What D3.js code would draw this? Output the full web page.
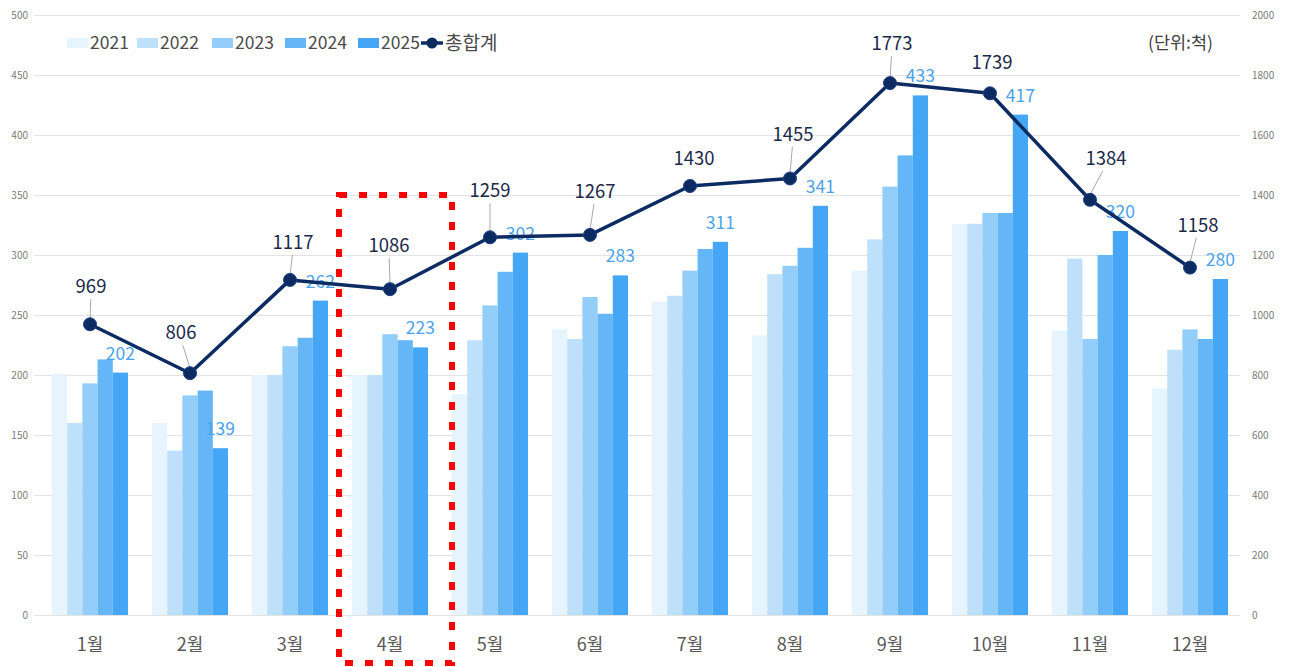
<!DOCTYPE html>
<html><head><meta charset="utf-8">
<script src="https://cdn.jsdelivr.net/npm/d3@7"></script>
<style>
html,body{margin:0;padding:0;background:#fff;}
svg{display:block;font-family:"Noto Sans CJK KR","Noto Sans",sans-serif;}
</style></head>
<body><svg id="chart" width="1292" height="667"></svg>
<script>
// ---- data ----
const months = ["1월","2월","3월","4월","5월","6월","7월","8월","9월","10월","11월","12월"];
const years = ["2021","2022","2023","2024","2025"];
const v2021 = [201,160,200,200,184,238,261,233,287,326,237,189];
const v2022 = [160,137,200,200,229,230,266,284,313,326,297,221];
const v2023 = [193,183,224,234,258,265,287,291,357,335,230,238];
const v2024 = [213,187,231,229,286,251,305,306,383,335,300,230];
const v2025 = [202,139,262,223,302,283,311,341,433,417,320,280];
const totals = [969,806,1117,1086,1259,1267,1430,1455,1773,1739,1384,1158];
const leftTicks = [0,50,100,150,200,250,300,350,400,450,500];
const rightTicks = [0,200,400,600,800,1000,1200,1400,1600,1800,2000];
const totalName = "총합계";
const unitText = "(단위:척)";
const highlightMonth = "4월";

// ---- layout / style ----
const colors = ["#e6f4fe","#bfe0fb","#93cdf9","#65b6f6","#44a6f5"];
const lineColor = "#0c2b63";
const totalLabelDx = [1,-9,3,-1,0,5,4,3,2,2,16,8];
const totalLabelDy = [31,34,31,37,40,37,21,38,33,24,35,36];

const series = [v2021,v2022,v2023,v2024,v2025];
const svg = d3.select("#chart");

const x0 = d3.scaleBand().domain(months).range([40,1240]).paddingInner(0.24).paddingOuter(0.12);
const x1 = d3.scaleBand().domain(years).range([0,x0.bandwidth()]);
const yL = d3.scaleLinear().domain([0,500]).range([615,15]);
const yR = d3.scaleLinear().domain([0,2000]).range([615,15]);

// gridlines
svg.append("g").selectAll("line").data(leftTicks).join("line")
  .attr("x1",34).attr("x2",1240)
  .attr("y1",d=>yL(d)+0.5).attr("y2",d=>yL(d)+0.5)
  .attr("stroke","#e3e3e3").attr("stroke-width",1);

// left axis
const axL = svg.append("g").attr("transform","translate(28,0)")
  .call(d3.axisLeft(yL).tickValues(leftTicks).tickSize(0).tickPadding(0).tickFormat(d3.format("d")));
axL.select(".domain").remove();
axL.selectAll("text").attr("font-size",10).attr("fill","#7a7a7a")
  .attr("font-family","'Noto Sans CJK KR',sans-serif");

// right axis
const axR = svg.append("g").attr("transform","translate(1252,0)")
  .call(d3.axisRight(yR).tickValues(rightTicks).tickSize(0).tickPadding(0).tickFormat(d3.format("d")));
axR.select(".domain").remove();
axR.selectAll("text").attr("font-size",10).attr("fill","#7a7a7a")
  .attr("font-family","'Noto Sans CJK KR',sans-serif");

// bars
const groups = svg.append("g").selectAll("g").data(months).join("g")
  .attr("transform",d=>`translate(${x0(d)},0)`);
groups.selectAll("rect").data((m,i)=>years.map((y,j)=>({y, j, v:series[j][i]}))).join("rect")
  .attr("x",d=>x1(d.y)).attr("width",x1.bandwidth())
  .attr("y",d=>yL(d.v)).attr("height",d=>yL(0)-yL(d.v))
  .attr("fill",d=>colors[d.j]);

// x axis labels
const axB = svg.append("g").attr("transform","translate(0,640)")
  .call(d3.axisBottom(x0).tickSize(0).tickPadding(0));
axB.select(".domain").remove();
axB.selectAll("text").attr("font-size",18).attr("fill","#595959")
  .attr("font-family","'Noto Sans CJK KR',sans-serif").attr("dy","0.6em");

// 2025 labels
svg.append("g").selectAll("text").data(v2025).join("text")
  .attr("x",(d,i)=>x0(months[i])+x1("2025")+x1.bandwidth()/2)
  .attr("y",d=>yL(d)-13)
  .attr("text-anchor","middle").attr("font-size",17.5).attr("fill","#4aa2ea")
  .text(d=>d);

// total line
const cx = i => x0(months[i])+x0.bandwidth()/2;
const line = d3.line().x((d,i)=>cx(i)).y(d=>yR(d));
svg.append("path").datum(totals).attr("d",line)
  .attr("fill","none").attr("stroke",lineColor).attr("stroke-width",3.5).attr("stroke-linejoin","round");

// leader lines
const tot = totals.map((v,i)=>({v,i}));
svg.append("g").selectAll("line").data(tot.filter(d=>totalLabelDy[d.i]>28)).join("line")
  .attr("x1",d=>cx(d.i)+totalLabelDx[d.i]*0.8).attr("y1",d=>yR(d.v)-totalLabelDy[d.i]+6)
  .attr("x2",d=>cx(d.i)).attr("y2",d=>yR(d.v)-5)
  .attr("stroke","#a8a8a8").attr("stroke-width",1);

svg.append("g").selectAll("circle").data(tot).join("circle")
  .attr("cx",d=>cx(d.i)).attr("cy",d=>yR(d.v)).attr("r",6.5)
  .attr("fill",lineColor).attr("stroke","#1d3f85").attr("stroke-width",1);

svg.append("g").selectAll("text").data(tot).join("text")
  .attr("x",d=>cx(d.i)+totalLabelDx[d.i]).attr("y",d=>yR(d.v)-totalLabelDy[d.i])
  .attr("text-anchor","middle").attr("font-size",18.5).attr("fill","#1c2a4a")
  .text(d=>d.v);

// legend
const legend = svg.append("g").attr("transform","translate(0,43)");
const legX = [67,137,212,285,358];
years.forEach((y,j)=>{
  legend.append("rect").attr("x",legX[j]).attr("y",-5).attr("width",21).attr("height",10).attr("fill",colors[j]);
  legend.append("text").attr("x",legX[j]+23).attr("y",0).attr("dy","0.36em")
    .attr("font-size",17.5).attr("fill","#4a4a4a").text(y);
});
legend.append("line").attr("x1",421).attr("x2",443).attr("y1",0).attr("y2",0)
  .attr("stroke",lineColor).attr("stroke-width",3.5);
legend.append("circle").attr("cx",432).attr("cy",0).attr("r",5.5).attr("fill",lineColor);
legend.append("text").attr("x",445).attr("y",0).attr("dy","0.36em")
  .attr("font-size",19).attr("fill","#4a4a4a").text(totalName);

// unit
svg.append("text").attr("x",1213).attr("y",43).attr("dy","0.36em").attr("text-anchor","end")
  .attr("font-size",17.5).attr("fill","#404040").text(unitText);

// highlight box
const hx = x0(highlightMonth);
svg.append("rect").attr("x",hx-13).attr("y",195)
  .attr("width",x0.bandwidth()+37).attr("height",468)
  .attr("fill","none").attr("stroke","#ff0000").attr("stroke-width",6)
  .attr("stroke-dasharray","8 12");
</script></body></html>
